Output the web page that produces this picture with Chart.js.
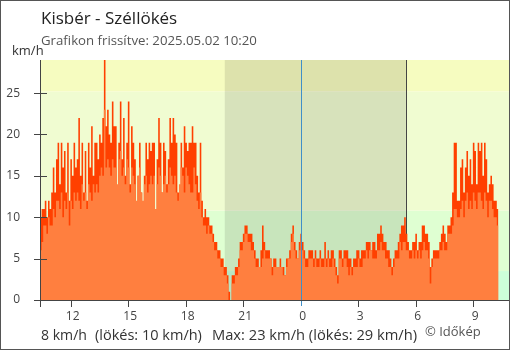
<!DOCTYPE html>
<html lang="hu">
<head>
<meta charset="UTF-8">
<title>Kisbér - Széllökés</title>
<style>
  html, body { margin: 0; padding: 0; background: #fff; }
  canvas { display: block; }
</style>
</head>
<body>
<canvas id="chart" width="510" height="350"></canvas>
<script src="https://cdn.jsdelivr.net/npm/chart.js@4"></script>
<script>
// idő: órák éjfélhez képest (negatív = előző nap), 5 perces mintavétel
const startHour = -13.6;
const stepMinutes = 5;

// átlagos szélsebesség (km/h)
const windAvg = [
  5, 6, 7, 9, 9, 8, 10, 9, 9, 11, 10, 12,
  12, 11, 13, 10, 12, 11, 13, 9, 12, 11, 13, 12,
  13, 12, 11, 14, 12, 13, 11, 14, 13, 12, 14, 13,
  14, 13, 15, 16, 15, 23, 16, 17, 16, 15, 17, 16,
  16, 14, 17, 18, 15, 16, 14, 17, 16, 13, 16, 15,
  14, 12, 15, 16, 13, 12, 14, 15, 13, 14, 15, 14,
  15, 11, 14, 16, 15, 13, 14, 15, 13, 14, 16, 15,
  14, 15, 13, 12, 14, 16, 15, 13, 16, 15, 14, 13,
  13, 16, 14, 12, 11, 13, 10, 9, 9, 8, 9, 8,
  8, 7, 6, 6, 5, 5, 4, 4, 3, 3, 2, 0,
  0, 2, 2, 3, 3, 4, 6, 6, 7, 8, 8, 7,
  7, 6, 6, 5, 4, 4, 4, 4, 5, 6, 5, 5,
  5, 5, 3, 4, 4, 4, 4, 4, 4, 3, 3, 4,
  5, 5, 7, 8, 6, 5, 5, 6, 7, 6, 5, 4,
  4, 5, 5, 5, 4, 5, 4, 4, 5, 4, 4, 5,
  4, 5, 4, 4, 5, 4, 3, 2, 5, 5, 4, 5,
  5, 4, 3, 4, 3, 4, 4, 4, 5, 4, 4, 5,
  5, 6, 5, 6, 6, 5, 5, 5, 6, 6, 7, 6,
  6, 5, 5, 4, 4, 3, 4, 5, 5, 5, 7, 6,
  7, 7, 6, 6, 5, 5, 6, 5, 6, 5, 6, 5,
  6, 7, 6, 6, 5, 2, 4, 5, 5, 5, 5, 6,
  6, 7, 6, 6, 8, 8, 8, 9, 11, 11, 10, 10,
  11, 12, 10, 12, 13, 11, 12, 11, 13, 12, 11, 13,
  13, 12, 11, 13, 12, 10, 12, 12, 11, 10, 10, 9
];

// széllökés (km/h)
const windGust = [
  9, 10, 11, 11, 12, 10, 12, 11, 13, 16, 13, 17,
  19, 14, 19, 16, 18, 13, 19, 12, 17, 15, 19, 16,
  17, 22, 15, 19, 13, 18, 12, 19, 16, 21, 15, 19,
  19, 17, 20, 19, 22, 29, 21, 23, 20, 19, 24, 21,
  21, 13, 19, 24, 17, 22, 15, 19, 24, 14, 21, 19,
  17, 11, 15, 19, 13, 10, 15, 19, 17, 19, 18, 19,
  19, 11, 17, 22, 19, 13, 19, 18, 14, 17, 22, 19,
  22, 20, 19, 13, 12, 19, 16, 21, 19, 18, 19, 19,
  21, 19, 19, 15, 13, 19, 12, 10, 11, 10, 10, 9,
  9, 8, 7, 7, 6, 6, 5, 5, 4, 4, 3, 1,
  0, 3, 3, 4, 4, 5, 7, 7, 8, 9, 9, 8,
  8, 8, 7, 6, 5, 5, 4, 6, 9, 7, 6, 6,
  6, 5, 4, 5, 5, 4, 4, 5, 4, 4, 3, 5,
  5, 6, 8, 9, 7, 6, 5, 7, 8, 7, 6, 5,
  5, 6, 6, 6, 5, 6, 5, 5, 6, 5, 5, 7,
  5, 6, 5, 6, 6, 5, 4, 3, 6, 6, 5, 6,
  6, 6, 5, 5, 4, 5, 5, 6, 6, 5, 6, 6,
  6, 7, 7, 7, 6, 7, 7, 6, 8, 8, 9, 8,
  7, 7, 6, 6, 5, 4, 5, 6, 6, 7, 8, 9,
  9, 10, 8, 7, 6, 6, 7, 7, 8, 6, 7, 7,
  9, 9, 8, 8, 7, 4, 5, 6, 6, 6, 6, 7,
  8, 9, 8, 7, 9, 9, 10, 13, 19, 19, 12, 12,
  16, 17, 13, 16, 18, 15, 17, 14, 19, 18, 14, 19,
  18, 19, 15, 19, 17, 13, 14, 15, 14, 12, 12, 11
];

const xTickHours = [-12, -9, -6, -3, 0, 3, 6, 9];
const yTickValues = [0, 5, 10, 15, 20, 25];
const bandLimits = [0, 3.5, 10.8, 25.2, 29];
const bandColors = ['#ccffd9', '#dfffd2', '#f0fcd1', '#f6fcc0'];
const sunset = -3.96;   // 20:02
const sunrise = 5.49;   // 5:29

const titleText = 'Kisbér - Széllökés';
const subtitleText = 'Grafikon frissítve: 2025.05.02 10:20';
const footerParts = ['8 km/h', '(lökés: 10 km/h)', 'Max: 23 km/h (lökés: 29 km/h)'];
// a lábléc darabjainak kezdete és szélessége (px)
const footerSlots = [[41, 46], [95, 107], [212, 205]];

const toPoints = arr => arr.map((v, i) => ({ x: startHour + i * stepMinutes / 60, y: v }));

Chart.defaults.font.family = "'Open Sans', sans-serif";

function fitText(ctx, text, x, y, width, size) {
  ctx.font = size + "px 'Open Sans'";
  const w = ctx.measureText(text).width;
  if (w > width) ctx.font = (size * width / w).toFixed(2) + "px 'Open Sans'";
  ctx.fillText(text, x, y);
}

const decor = {
  id: 'decor',
  beforeDatasetsDraw(chart) {
    const { ctx, chartArea: a, scales: { x, y } } = chart;
    ctx.save();
    for (let i = 0; i < bandColors.length; i++) {
      const top = y.getPixelForValue(bandLimits[i + 1]);
      const bot = y.getPixelForValue(bandLimits[i]);
      ctx.fillStyle = bandColors[i];
      ctx.fillRect(a.left, top, a.right - a.left, bot - top);
    }
    const n1 = x.getPixelForValue(sunset), n2 = x.getPixelForValue(sunrise);
    ctx.fillStyle = 'rgba(0,0,0,0.1)';
    ctx.fillRect(n1, a.top, n2 - n1, a.bottom - a.top);
    ctx.strokeStyle = '#444';
    ctx.lineWidth = 1;
    ctx.beginPath();
    ctx.moveTo(Math.round(n2) + 0.5, a.top);
    ctx.lineTo(Math.round(n2) + 0.5, a.bottom);
    ctx.stroke();
    ctx.restore();
  },
  afterDatasetsDraw(chart) {
    const { ctx, chartArea: a, scales: { x, y } } = chart;
    ctx.save();
    ctx.lineWidth = 1;
    // éjfél
    const mx = Math.round(x.getPixelForValue(0)) + 0.5;
    ctx.strokeStyle = '#3f8fc8';
    ctx.beginPath();
    ctx.moveTo(mx, a.top);
    ctx.lineTo(mx, a.bottom + 6);
    ctx.stroke();
    // tengelyek
    ctx.strokeStyle = '#444';
    ctx.beginPath();
    ctx.moveTo(a.left + 0.5, a.top);
    ctx.lineTo(a.left + 0.5, a.bottom + 7);
    ctx.moveTo(a.left, a.bottom + 0.5);
    ctx.lineTo(a.right, a.bottom + 0.5);
    yTickValues.forEach(v => {
      const py = Math.round(y.getPixelForValue(v)) + 0.5;
      ctx.moveTo(a.left - 6, py);
      ctx.lineTo(a.left + 7, py);
    });
    xTickHours.forEach(h => {
      if (h === 0) return;
      const px = Math.round(x.getPixelForValue(h)) + 0.5;
      ctx.moveTo(px, a.bottom);
      ctx.lineTo(px, a.bottom + 7);
    });
    ctx.stroke();
    ctx.restore();
  },
  afterDraw(chart) {
    const { ctx } = chart;
    ctx.save();
    ctx.textBaseline = 'alphabetic';
    ctx.textAlign = 'left';
    ctx.fillStyle = '#222';
    ctx.font = "17px 'Open Sans'";
    ctx.fillText(titleText, 41, 24);
    ctx.fillStyle = '#555';
    fitText(ctx, subtitleText, 41, 45, 216, 13.3);
    ctx.fillStyle = '#333';
    ctx.font = "13px 'Open Sans'";
    ctx.fillText('km/h', 12, 55);
    footerParts.forEach((t, i) => fitText(ctx, t, footerSlots[i][0], 340, footerSlots[i][1], 15));
    ctx.fillStyle = '#555';
    ctx.font = "13px 'Open Sans'";
    ctx.fillText('© Időkép', 425, 336);
    ctx.strokeStyle = '#555';
    ctx.lineWidth = 1;
    ctx.strokeRect(0.5, 0.5, 509, 349);
    ctx.restore();
  }
};

new Chart(document.getElementById('chart'), {
  type: 'line',
  data: {
    datasets: [
      {
        label: 'Szélsebesség',
        data: toPoints(windAvg),
        stepped: 'after',
        borderWidth: 0,
        pointRadius: 0,
        backgroundColor: '#ff7f3f',
        borderColor: '#ff7f3f',
        fill: 'origin'
      },
      {
        label: 'Széllökés',
        data: toPoints(windGust),
        stepped: 'after',
        borderWidth: 0,
        pointRadius: 0,
        backgroundColor: '#ff4000',
        borderColor: '#ff4000',
        fill: 'origin'
      }
    ]
  },
  options: {
    responsive: false,
    animation: false,
    layout: { padding: { top: 60, right: 1, left: 0, bottom: 0 } },
    plugins: {
      legend: { display: false },
      tooltip: { enabled: false }
    },
    scales: {
      x: {
        type: 'linear',
        min: startHour,
        max: 10.87,
        grid: { display: false, drawTicks: false },
        border: { display: false },
        afterBuildTicks: s => { s.ticks = xTickHours.map(v => ({ value: v })); },
        afterFit: s => { s.height = 50; },
        ticks: {
          font: { size: 12 },
          color: '#444',
          padding: 9,
          labelOffset: 2,
          maxRotation: 0,
          callback: v => String(((v % 24) + 24) % 24)
        }
      },
      y: {
        min: 0,
        max: 29,
        grid: { display: false, drawTicks: false },
        border: { display: false },
        afterBuildTicks: s => { s.ticks = yTickValues.map(v => ({ value: v })); },
        afterFit: s => { s.width = 40; },
        ticks: {
          font: { size: 12 },
          color: '#444',
          padding: 20
        }
      }
    }
  },
  plugins: [decor]
});
</script>
</body>
</html>
